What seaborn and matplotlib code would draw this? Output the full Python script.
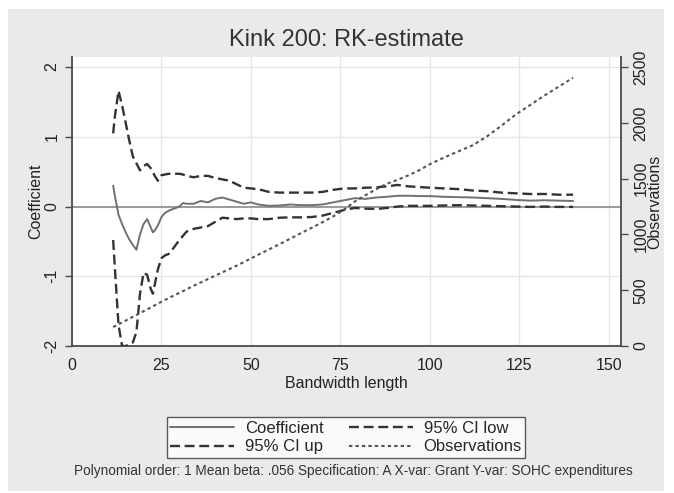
import matplotlib
matplotlib.use("Agg")
import matplotlib.pyplot as plt
from matplotlib.patches import Rectangle
from matplotlib.lines import Line2D
import seaborn as sns
import pandas as pd

# Bandwidth grid and RK estimates per bandwidth
bandwidth = [11.5, 12, 13, 14, 15, 16, 17, 18, 19, 20, 21, 22, 22.6, 23, 24, 25, 26, 27, 28,
             30, 31, 32, 34, 36, 38, 40, 42, 44, 46, 48, 50, 52, 55, 58, 61, 64, 67, 70, 73,
             76, 79, 82, 85, 88, 91, 94, 97, 100, 104, 108, 112, 116, 120, 124, 128, 132,
             136, 140]

coefficient = [0.30, 0.15, -0.12, -0.25, -0.37, -0.47, -0.55, -0.62, -0.40, -0.25, -0.18,
               -0.30, -0.37, -0.35, -0.27, -0.15, -0.09, -0.06, -0.04, 0.00, 0.05, 0.04, 0.04,
               0.08, 0.06, 0.11, 0.13, 0.10, 0.07, 0.04, 0.06, 0.03, 0.01, 0.015, 0.03, 0.02,
               0.02, 0.03, 0.06, 0.09, 0.12, 0.11, 0.13, 0.14, 0.155, 0.155, 0.15, 0.15, 0.14,
               0.135, 0.13, 0.12, 0.11, 0.095, 0.085, 0.09, 0.085, 0.08]

ci_up = [1.05, 1.30, 1.66, 1.45, 1.20, 0.95, 0.72, 0.62, 0.52, 0.58, 0.61, 0.55, 0.50, 0.45,
         0.37, 0.45, 0.46, 0.47, 0.47, 0.47, 0.46, 0.44, 0.42, 0.44, 0.44, 0.41, 0.39, 0.37,
         0.32, 0.27, 0.26, 0.25, 0.21, 0.20, 0.20, 0.20, 0.20, 0.21, 0.24, 0.26, 0.26, 0.27,
         0.275, 0.29, 0.31, 0.29, 0.28, 0.27, 0.26, 0.25, 0.23, 0.22, 0.20, 0.19, 0.18, 0.18,
         0.17, 0.17]

ci_low = [-0.48, -0.90, -1.70, -2.00, -2.00, -1.98, -1.95, -1.80, -1.25, -0.95, -0.98, -1.18,
          -1.25, -1.15, -0.90, -0.74, -0.70, -0.68, -0.62, -0.48, -0.42, -0.36, -0.32, -0.30,
          -0.28, -0.22, -0.16, -0.17, -0.18, -0.17, -0.17, -0.18, -0.18, -0.16, -0.155,
          -0.155, -0.15, -0.13, -0.09, -0.05, -0.02, -0.03, -0.035, -0.02, 0.00, 0.01, 0.01,
          0.01, 0.015, 0.02, 0.015, 0.01, 0.005, 0.00, -0.005, 0.00, -0.005, -0.005]

observations = [170, 178, 195, 212, 228, 245, 262, 278, 295, 312, 328, 345, 355, 362, 380,
                397, 413, 430, 445, 477, 492, 508, 540, 570, 600, 630, 660, 690, 720, 752,
                785, 818, 865, 913, 962, 1012, 1060, 1110, 1162, 1222, 1295, 1352, 1405,
                1455, 1490, 1530, 1575, 1630, 1690, 1745, 1800, 1880, 1975, 2075, 2160,
                2245, 2325, 2405]

x_ticks = [0, 25, 50, 75, 100, 125, 150]
coef_ticks = [-2, -1, 0, 1, 2]
obs_ticks = [0, 500, 1000, 1500, 2000, 2500]

df = pd.DataFrame({"bw": bandwidth, "coef": coefficient, "up": ci_up,
                   "low": ci_low, "obs": observations})

sns.set_theme(style="white")
plt.rcParams["font.family"] = ["Liberation Sans", "DejaVu Sans"]

W, H = 674, 493
fig = plt.figure(figsize=(W / 100, H / 100), dpi=100, facecolor="white")

# grey graph region (Stata-like s2color background)
fig.patches.append(Rectangle((8 / W, 2 / H), 656 / W, 482 / H, transform=fig.transFigure,
                             facecolor="#EAEAEA", edgecolor="none", zorder=-5))

ax = fig.add_axes([72 / W, 1 - 346 / H, 549 / W, 289 / H])
ax.set_facecolor("white")

ylo, yhi = -2, 2.145
ax.set_xlim(0, 153.4)
ax.set_ylim(ylo, yhi)

grid_c = "#E6E6E6"
for xt in x_ticks:
    ax.axvline(xt, color=grid_c, lw=1.0, zorder=0.5)
for yt in coef_ticks:
    ax.axhline(yt, color=grid_c, lw=1.0, zorder=0.5)
ax.axhline(0, color="#9A9A9A", lw=1.4, zorder=1)

dash_ci = (0, (4.2, 2.0))
dot_obs = (0, (1.6, 1.5))
sns.lineplot(data=df, x="bw", y="coef", ax=ax, color="#707070", lw=1.4, zorder=3)
sns.lineplot(data=df, x="bw", y="low", ax=ax, color="#333333", lw=1.7, linestyle=dash_ci, zorder=3)
sns.lineplot(data=df, x="bw", y="up", ax=ax, color="#333333", lw=1.7, linestyle=dash_ci, zorder=3)

ax2 = ax.twinx()
ax2.set_ylim(0, 2500 * (yhi - ylo) / 4)
sns.lineplot(data=df, x="bw", y="obs", ax=ax2, color="#555555", lw=1.5,
             linestyle=dot_obs, zorder=3)

spine_c = "#4A4A4A"
for a in (ax, ax2):
    a.spines["top"].set_visible(False)
    a.tick_params(colors=spine_c, labelcolor="#222222", labelsize=11.5, length=5, width=1.0,
                  direction="out")
ax.spines["left"].set_color(spine_c)
ax.spines["bottom"].set_color(spine_c)
ax.spines["right"].set_visible(False)
ax2.spines["left"].set_visible(False)
ax2.spines["bottom"].set_visible(False)
ax2.spines["right"].set_color(spine_c)
for s in ("left", "bottom"):
    ax.spines[s].set_linewidth(1.3)
ax2.spines["right"].set_linewidth(1.3)

ax.set_xticks(x_ticks)
ax.set_xticklabels([str(v) for v in x_ticks])
ax.set_yticks(coef_ticks)
ax.set_yticklabels([str(v) for v in coef_ticks], rotation=90, va="center")
ax2.set_yticks(obs_ticks)
ax2.set_yticklabels([str(v) for v in obs_ticks], rotation=90, va="center")
ax.tick_params(axis="y", pad=4)
ax2.tick_params(axis="y", pad=4)
ax.tick_params(axis="x", pad=4)

ax.set_xlabel("Bandwidth length", fontsize=11.5, color="#222222", labelpad=2)
ax.set_ylabel("Coefficient", fontsize=11.5, color="#222222", labelpad=1)
ax2.set_ylabel("Observations", fontsize=11.5, color="#222222", labelpad=-1)

fig.text(346 / W, 1 - 40 / H, "Kink 200: RK-estimate", ha="center", va="center",
         fontsize=17, color="#333333")

handles = [
    Line2D([], [], color="#707070", lw=1.4),
    Line2D([], [], color="#333333", lw=1.7, linestyle=dash_ci),
    Line2D([], [], color="#333333", lw=1.7, linestyle=dash_ci),
    Line2D([], [], color="#555555", lw=1.5, linestyle=dot_obs),
]
labels = ["Coefficient", "95% CI up", "95% CI low", "Observations"]
leg = fig.legend(handles, labels, loc="center", bbox_to_anchor=(346 / W, 1 - 437.5 / H),
                 ncol=2, frameon=True, fancybox=False, edgecolor="#333333", fontsize=12,
                 handlelength=3.85, handletextpad=0.64, columnspacing=1.5, borderpad=0.22,
                 labelspacing=0.23, borderaxespad=0)
leg.get_frame().set_linewidth(1.0)
leg.get_frame().set_facecolor("white")

fig.text(353 / W, 1 - 471 / H,
         "Polynomial order: 1 Mean beta: .056 Specification: A X-var: Grant Y-var: SOHC expenditures",
         ha="center", va="center", fontsize=9.8, color="#333333")

fig.savefig("out.png", dpi=100, facecolor="white")
